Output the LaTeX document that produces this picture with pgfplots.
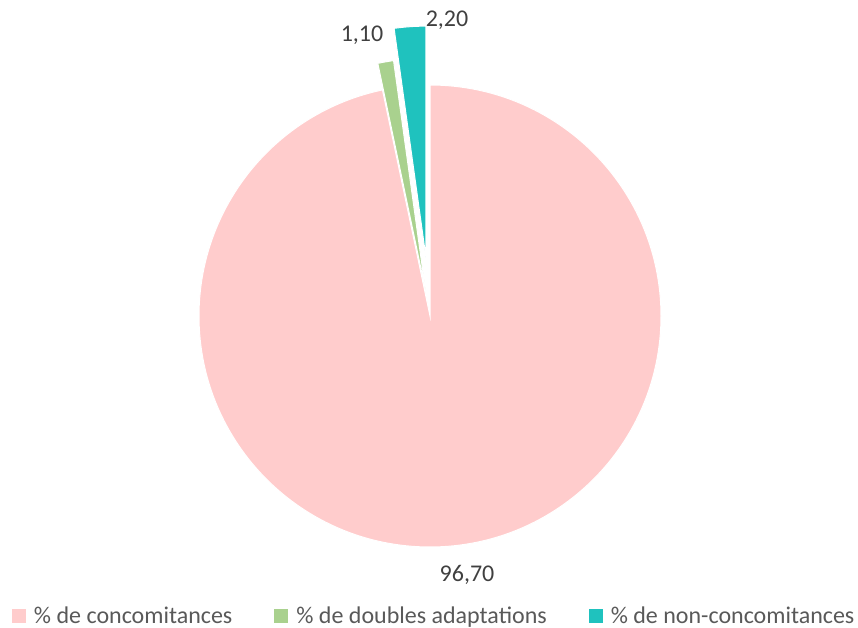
\documentclass[border=0pt]{standalone}
\usepackage{pgfplots}
\usepackage{pgfplotstable}
\pgfplotsset{compat=1.18}
\usepackage{fontspec}
\setmainfont{Carlito}
\definecolor{cPink}{RGB}{255,204,204}
\definecolor{cGreen}{RGB}{169,209,142}
\definecolor{cTeal}{RGB}{31,194,190}
\definecolor{cLabel}{RGB}{64,64,64}
\definecolor{cLegend}{RGB}{89,89,89}
\tikzset{
  slice0/.style={fill=cPink},
  slice1/.style={fill=cGreen},
  slice2/.style={fill=cTeal},
}
% value (%), explosion offset (px)
\pgfplotstableread{
label value explode
concomitances 96.70 0
doubles 1.10 27
noncon 2.20 59
}\piedata
\begin{document}
\begin{tikzpicture}
\path[use as bounding box] (0,0) rectangle (858bp,628bp);
\begin{axis}[
  x=1bp, y=1bp,
  xmin=0, xmax=858, ymin=0, ymax=628,
  hide axis, clip=false,
  legend columns=3,
  legend cell align=left,
  legend style={at={(axis cs:12,12)}, anchor=west, draw=none, fill=none,
    inner sep=0pt, outer sep=0pt,
    font=\fontsize{24bp}{28bp}\selectfont, text=cLegend,
    /tikz/every even column/.append style={column sep=40bp}},
]
\def\angstart{90}
\pgfplotsinvokeforeach{0,1,2}{
  \pgfplotstablegetelem{#1}{value}\of\piedata \let\val\pgfplotsretval
  \pgfplotstablegetelem{#1}{explode}\of\piedata \let\ex\pgfplotsretval
  \pgfmathsetmacro\angend{\angstart-3.6*\val}
  \pgfmathsetmacro\angmid{(\angstart+\angend)/2}
  \pgfmathsetmacro\cx{430+\ex*cos(\angmid)}
  \pgfmathsetmacro\cy{312+\ex*sin(\angmid)}
  \edef\cmd{\noexpand\fill[slice#1, draw=white, line width=1bp, line join=miter]
    (axis cs:\cx,\cy) -- ++(\angstart:231bp)
    arc[start angle=\angstart, end angle=\angend, radius=231bp] -- cycle;}
  \cmd
  \global\let\angstart\angend
}
\addlegendimage{legend image code/.code={\path[draw=none,fill=none] (0bp,0bp) -- (20bp,0bp);\fill[cPink,draw=none] (0bp,-7bp) rectangle (14bp,7bp);}}
\addlegendentry{\% de concomitances}
\addlegendimage{legend image code/.code={\path[draw=none,fill=none] (0bp,0bp) -- (20bp,0bp);\fill[cGreen,draw=none] (0bp,-7bp) rectangle (14bp,7bp);}}
\addlegendentry{\% de doubles adaptations}
\addlegendimage{legend image code/.code={\path[draw=none,fill=none] (0bp,0bp) -- (20bp,0bp);\fill[cTeal,draw=none] (0bp,-7bp) rectangle (14bp,7bp);}}
\addlegendentry{\% de non-concomitances}
\node[text=cLabel, font=\fontsize{24bp}{28bp}\selectfont] at (axis cs:467,53) {96,70};
\node[text=cLabel, font=\fontsize{24bp}{28bp}\selectfont] at (axis cs:362,593) {1,10};
\node[text=cLabel, font=\fontsize{24bp}{28bp}\selectfont] at (axis cs:447,608) {2,20};
\end{axis}
\end{tikzpicture}
\end{document}
